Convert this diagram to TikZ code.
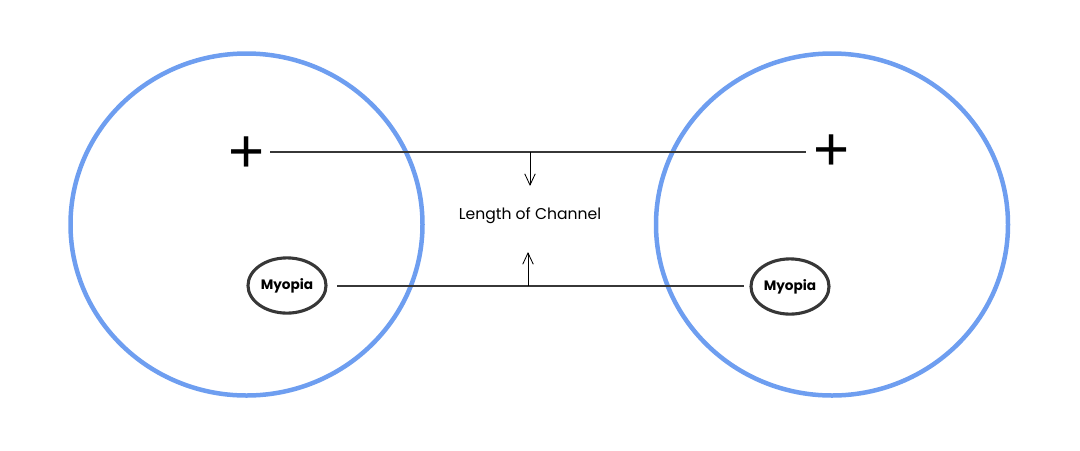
\documentclass[tikz,border=0pt]{standalone}
\usepackage{fontspec}
\setmainfont{Poppins}
\newfontfamily\signfont{Liberation Sans}
\usetikzlibrary{positioning, shapes.geometric, arrows.meta}
\definecolor{ringblue}{RGB}{110,158,240}
\definecolor{linegray}{RGB}{55,55,55}

\begin{document}
\begin{tikzpicture}[x=0.025cm, y=-0.025cm,
    ring/.style={draw=ringblue, line width=3.2pt},
    link/.style={draw=linegray, line width=1.4pt},
    pointer/.style={draw=black, line width=0.6pt, -{Straight Barb[length=8pt, width=7.5pt]}},
    sign/.style={inner sep=0pt, font=\fontsize{44}{44}\signfont},
    myopiabox/.style={draw=linegray, line width=2.2pt, ellipse, inner sep=0pt,
        minimum width=1.95cm, minimum height=1.38cm, font=\fontsize{9.7}{11}\selectfont\bfseries},
    every node/.style={font=\fontsize{11.1}{14}\selectfont}]
    \useasboundingbox (0,0) rectangle (1080,450);

    % Cells
    \draw[ring] (246.5,224.5) ellipse [x radius=176, y radius=171];
    \draw[ring] (832,224.5) ellipse [x radius=176, y radius=171];

    % Poles
    \node[sign] (plusL) at (246.5,155) {+};
    \node[sign] (plusR) at (832,153) {+};

    % Myopia labels
    \node[myopiabox] (myopiaL) at (287,285.5) {Myopia};
    \node[myopiabox] (myopiaR) at (790,286.5) {Myopia};

    % Channel lines
    \coordinate (topL) at (270,152);
    \coordinate (topR) at (806,152);
    \coordinate (botL) at (337,286);
    \coordinate (botR) at (744,286);
    \draw[link] (topL) -- (topR);
    \draw[link] (botL) -- (botR);

    % Length of channel
    \node (channel) at (530,216) {Length of Channel};
    \coordinate (topmid) at (530,152);
    \coordinate (botmid) at (528,286);
    \draw[pointer] (topmid) -- (530,186);
    \draw[pointer] (botmid) -- (528,252);
\end{tikzpicture}
\end{document}
